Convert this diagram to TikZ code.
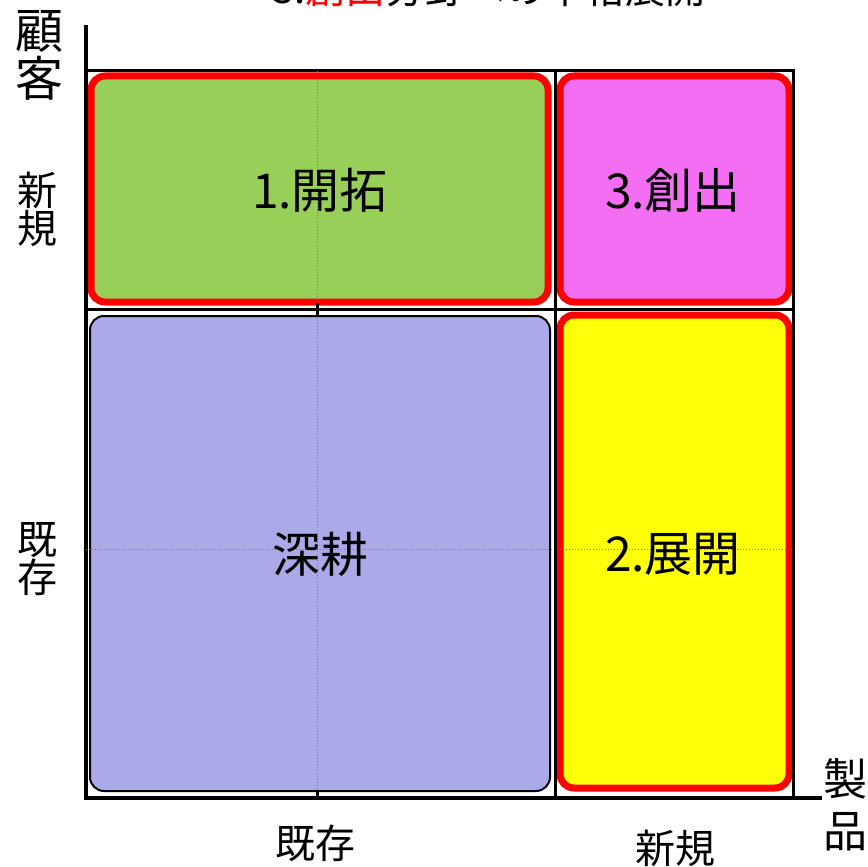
\documentclass[tikz,border=0pt]{standalone}
\usepackage{fontspec}
\setmainfont{Noto Sans CJK JP}
\definecolor{qgreen}{HTML}{98CF58}
\definecolor{qmag}{HTML}{F46EF4}
\definecolor{qyel}{HTML}{FFFF0A}
\definecolor{qblue}{HTML}{AAAAE8}
\definecolor{qred}{HTML}{FF0000}
\tikzset{
  redbox/.style={draw=qred, line width=7pt, rounded corners=14pt},
  plainbox/.style={draw=black, line width=2pt, rounded corners=14pt},
  gridline/.style={draw=black, line width=3pt},
  midline/.style={draw=black!55, line width=1pt, dotted},
  boxtext/.style={font=\fontsize{48}{52}\selectfont, inner sep=0pt},
  axlabel/.style={font=\fontsize{40}{38}\selectfont, align=center, inner sep=0pt},
  biglabel/.style={font=\fontsize{48}{48}\selectfont, align=center, inner sep=0pt},
}
\begin{document}
\begin{tikzpicture}[x=1pt,y=-1pt]
\useasboundingbox (0,0) rectangle (868,867);
% clipped title
\begin{scope}
\clip (0,0) rectangle (868,867);
\node[anchor=base west, font=\fontsize{40}{40}\selectfont, inner sep=0pt] (title) at (272,4) {3.\textcolor{qred}{創出}分野への本格展開};
\end{scope}
% boxes
\draw[redbox, fill=qgreen] (91,76) rectangle (548,302);
\draw[redbox, fill=qmag] (560,76) rectangle (789,302);
\draw[plainbox, fill=qblue] (90,316) rectangle (550,791);
\draw[redbox, fill=qyel] (560,315) rectangle (789,788);
% grid
\coordinate (tl) at (86,71);
\coordinate (tr) at (793,71);
\coordinate (br) at (793,798);
\coordinate (bl) at (86,798);
\draw[gridline] (tl) -- (tr) -- (br);
\draw[gridline] (555,71) -- (555,798);
\draw[gridline] (86,309) -- (793,309);
% axes
\coordinate (ytop) at (86,25);
\coordinate (xend) at (822,798);
\draw[line width=3.5pt] (ytop) -- (bl) -- (xend);
% mid lines
\draw[midline] (317,71) -- (317,798);
\draw[midline] (86,549) -- (793,549);
\draw[line width=3pt] (317,791) -- (317,798);
\draw[line width=3pt] (317,303) -- (317,315);
\draw[line width=3pt] (555,545) -- (555,553);
% box texts
\node[boxtext] (t1) at (320,190) {1.開拓};
\node[boxtext] (t3) at (673,190) {3.創出};
\node[boxtext] (t0) at (320,554) {深耕};
\node[boxtext] (t2) at (673,554) {2.展開};
% axis labels
\node[biglabel] (ky) at (40,55) {顧\\[0pt]客};
\node[axlabel] (yn) at (37,209) {新\\規};
\node[axlabel] (ye) at (37,559) {既\\存};
\node[axlabel] (xe) at (315,843) {既存};
\node[axlabel] (xn) at (675,848) {新規};
\node[biglabel, font=\fontsize{44}{52}\selectfont] (sp) at (845,805) {製\\品};
\end{tikzpicture}
\end{document}
